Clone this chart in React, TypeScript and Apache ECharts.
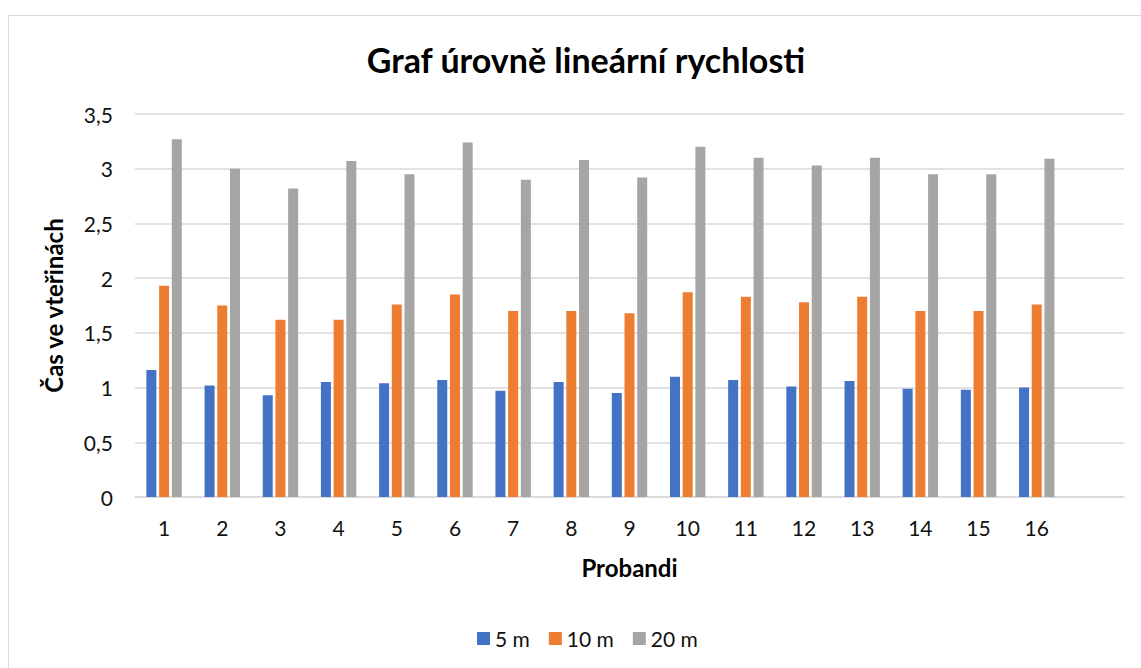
import React, { useEffect, useRef } from "react";
import * as echarts from "echarts";

const categories = ["1", "2", "3", "4", "5", "6", "7", "8", "9", "10", "11", "12", "13", "14", "15", "16", ""];
const series5m = [1.16, 1.02, 0.93, 1.05, 1.04, 1.07, 0.97, 1.05, 0.95, 1.10, 1.07, 1.01, 1.06, 0.99, 0.98, 1.00];
const series10m = [1.93, 1.75, 1.62, 1.62, 1.76, 1.85, 1.70, 1.70, 1.68, 1.87, 1.83, 1.78, 1.83, 1.70, 1.70, 1.76];
const series20m = [3.27, 3.00, 2.82, 3.07, 2.95, 3.24, 2.90, 3.08, 2.92, 3.20, 3.10, 3.03, 3.10, 2.95, 2.95, 3.09];
const seriesNames = ["5 m", "10 m", "20 m"];
const yTicks = { min: 0, max: 3.5, interval: 0.5 };

const FONT = "Lato, 'Noto Sans', sans-serif";

export default function App() {
  const ref = useRef<HTMLDivElement>(null);
  useEffect(() => {
    if (!ref.current) return;
    const chart = echarts.init(ref.current, undefined, { renderer: "svg" });
    const colors = ["#4472C4", "#ED7D31", "#A5A5A5"];
    const data = [series5m, series10m, series20m];
    chart.setOption({
      animation: false,
      backgroundColor: "#ffffff",
      textStyle: { fontFamily: FONT },
      title: {
        text: "Graf úrovně lineární rychlosti",
        left: 581,
        textAlign: "center",
        top: 37,
        textStyle: { fontFamily: FONT, fontSize: 34, fontWeight: "bold", color: "#000000" },
      },
      graphic: [
        {
          type: "rect",
          z: -10,
          silent: true,
          shape: { x: 8.5, y: 15.5, width: 1140, height: 660 },
          style: { fill: "none", stroke: "#d9d9d9", lineWidth: 1 },
        },
      ],
      legend: {
        data: seriesNames,
        left: 472,
        top: 623,
        icon: "rect",
        itemWidth: 13,
        itemHeight: 13,
        itemGap: 19,
        textStyle: { fontFamily: FONT, fontSize: 21, color: "#111111" },
      },
      grid: { left: 135, right: 17, top: 114, bottom: 171, containLabel: false },
      xAxis: {
        type: "category",
        data: categories,
        name: "Probandi",
        nameLocation: "middle",
        nameGap: 58,
        nameTextStyle: { fontFamily: FONT, fontSize: 24, fontWeight: "bold", color: "#000000" },
        axisLine: { show: true, lineStyle: { color: "#d9d9d9", width: 1.5 } },
        axisTick: { show: false },
        axisLabel: { fontFamily: FONT, fontSize: 21, color: "#111111", margin: 20 },
        splitLine: { show: false },
      },
      yAxis: {
        type: "value",
        min: yTicks.min,
        max: yTicks.max,
        interval: yTicks.interval,
        name: "Čas ve vteřinách",
        nameLocation: "middle",
        nameGap: 70,
        nameRotate: 90,
        nameTextStyle: { fontFamily: FONT, fontSize: 24, fontWeight: "bold", color: "#000000" },
        axisLine: { show: false },
        axisTick: { show: false },
        axisLabel: {
          fontFamily: FONT,
          fontSize: 21,
          color: "#111111",
          margin: 22,
          formatter: (v: number) => String(v).replace(".", ","),
        },
        splitLine: { show: true, lineStyle: { color: "#d9d9d9", width: 1.5 } },
      },
      series: seriesNames.map((name, i) => ({
        name,
        type: "bar",
        data: data[i],
        barWidth: 10,
        barGap: "27%",
        itemStyle: { color: colors[i] },
      })),
    });
    return () => chart.dispose();
  }, []);
  return <div ref={ref} style={{ position: "fixed", left: 0, top: 0, width: 1141, height: 668 }} />;
}
